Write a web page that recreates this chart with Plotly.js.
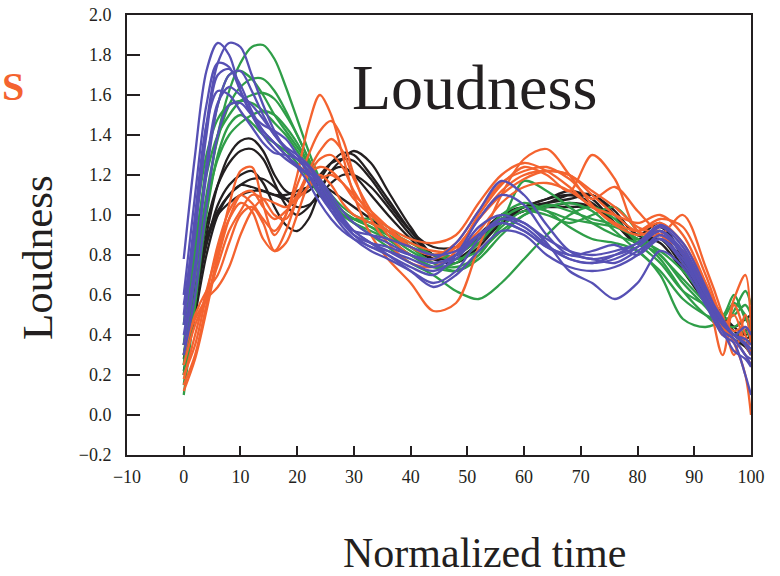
<!DOCTYPE html>
<html>
<head>
<meta charset="utf-8">
<script src="https://cdn.plot.ly/plotly-3.0.1.min.js"></script>
<style>html,body{margin:0;padding:0;background:#fff;}#chart{width:780px;height:576px;}</style>
</head>
<body>
<div id="chart"></div>
<script>
// Normalized time grid (shared by every curve)
const time = [0,2,4,6,8,10,12,14,16,18,20,22,24,26,28,30,33,36,40,44,48,52,56,60,64,68,72,76,80,84,88,92,95,97,99,100];

// Blue group
const blueCurves = [
  [0.78,1.30,1.72,1.86,1.80,1.62,1.50,1.42,1.36,1.30,1.24,1.16,1.06,0.98,0.92,0.88,0.84,0.80,0.74,0.70,0.80,0.98,1.10,1.05,0.90,0.80,0.82,0.85,0.80,0.88,0.78,0.58,0.45,0.40,0.35,0.30],
  [0.55,0.95,1.45,1.76,1.86,1.84,1.70,1.55,1.42,1.33,1.28,1.22,1.14,1.04,0.96,0.90,0.86,0.84,0.80,0.78,0.86,1.02,1.17,1.10,0.95,0.82,0.78,0.80,0.84,0.92,0.80,0.60,0.42,0.38,0.30,0.25],
  [0.60,1.10,1.55,1.76,1.74,1.62,1.50,1.40,1.33,1.28,1.24,1.20,1.12,1.02,0.94,0.88,0.82,0.78,0.72,0.66,0.72,0.88,0.98,0.96,0.86,0.72,0.66,0.58,0.66,0.82,0.74,0.55,0.40,0.36,0.20,0.10],
  [0.45,0.90,1.40,1.70,1.73,1.65,1.52,1.42,1.36,1.30,1.25,1.20,1.12,1.05,0.98,0.92,0.86,0.82,0.76,0.72,0.78,0.90,0.96,0.92,0.84,0.78,0.76,0.78,0.84,0.94,0.84,0.62,0.48,0.40,0.38,0.35],
  [0.40,0.75,1.20,1.55,1.70,1.72,1.62,1.50,1.40,1.33,1.28,1.22,1.16,1.08,0.99,0.92,0.86,0.80,0.72,0.64,0.70,0.82,0.92,0.90,0.80,0.74,0.72,0.74,0.80,0.90,0.80,0.56,0.42,0.32,0.28,0.24],
  [0.35,0.70,1.25,1.56,1.64,1.60,1.55,1.48,1.40,1.34,1.30,1.25,1.18,1.10,1.02,0.96,0.90,0.86,0.80,0.76,0.80,0.90,0.98,0.94,0.85,0.78,0.76,0.80,0.86,0.92,0.82,0.60,0.46,0.40,0.44,0.40],
  [0.50,1.00,1.45,1.62,1.60,1.52,1.44,1.36,1.31,1.30,1.28,1.24,1.16,1.06,0.97,0.90,0.84,0.82,0.78,0.74,0.80,0.94,1.00,0.96,0.88,0.82,0.80,0.82,0.86,0.95,0.86,0.64,0.46,0.40,0.36,0.33],
  [0.30,0.60,1.05,1.40,1.55,1.56,1.50,1.45,1.42,1.38,1.30,1.20,1.10,1.02,0.96,0.92,0.90,0.88,0.84,0.80,0.82,0.90,0.96,0.92,0.84,0.80,0.78,0.76,0.82,0.88,0.76,0.58,0.42,0.38,0.30,0.28]
];

// Green group
const greenCurves = [
  [0.15,0.60,1.05,1.40,1.62,1.76,1.84,1.85,1.78,1.64,1.48,1.32,1.18,1.08,1.00,0.96,0.92,0.88,0.80,0.74,0.72,0.80,0.94,1.02,1.00,0.96,1.00,1.04,0.92,0.80,0.68,0.56,0.46,0.44,0.48,0.40],
  [0.25,0.80,1.25,1.55,1.70,1.72,1.68,1.60,1.50,1.42,1.34,1.26,1.18,1.10,1.04,1.00,0.96,0.90,0.82,0.76,0.72,0.78,0.90,1.00,1.05,1.02,0.98,0.95,0.88,0.82,0.72,0.58,0.48,0.50,0.55,0.50],
  [0.20,0.70,1.10,1.38,1.55,1.64,1.68,1.68,1.62,1.52,1.40,1.28,1.16,1.06,1.00,0.96,0.90,0.84,0.76,0.70,0.62,0.58,0.66,0.78,0.90,1.00,1.04,0.98,0.86,0.76,0.62,0.55,0.50,0.60,0.48,0.45],
  [0.35,0.85,1.20,1.40,1.50,1.57,1.60,1.61,1.58,1.50,1.40,1.28,1.16,1.06,1.00,0.98,0.98,0.94,0.84,0.76,0.74,0.80,0.96,1.17,1.12,1.04,0.96,0.90,0.86,0.80,0.66,0.54,0.44,0.40,0.42,0.38],
  [0.45,0.95,1.30,1.48,1.55,1.57,1.56,1.52,1.46,1.40,1.32,1.24,1.16,1.08,1.02,0.98,0.94,0.90,0.84,0.80,0.80,0.88,1.00,1.06,1.02,0.94,0.88,0.86,0.82,0.70,0.48,0.44,0.48,0.56,0.50,0.45],
  [0.30,0.70,1.05,1.28,1.40,1.46,1.50,1.52,1.50,1.44,1.36,1.26,1.16,1.08,1.02,0.98,0.94,0.88,0.80,0.74,0.76,0.86,0.98,1.04,1.02,0.98,0.96,0.94,0.88,0.78,0.62,0.50,0.44,0.52,0.62,0.55],
  [0.10,0.55,1.00,1.30,1.45,1.50,1.46,1.40,1.36,1.32,1.26,1.18,1.10,1.04,1.00,0.98,0.96,0.92,0.86,0.80,0.78,0.82,0.92,1.00,1.04,1.06,1.02,0.92,0.82,0.72,0.58,0.50,0.46,0.40,0.36,0.32]
];

// Black group
const blackCurves = [
  [0.20,0.55,0.90,1.15,1.30,1.37,1.38,1.32,1.20,1.12,1.10,1.12,1.18,1.26,1.31,1.30,1.20,1.08,0.92,0.80,0.80,0.90,1.00,1.04,1.06,1.08,1.10,1.02,0.90,0.96,0.78,0.60,0.46,0.40,0.42,0.45],
  [0.30,0.62,0.95,1.15,1.26,1.32,1.33,1.28,1.16,1.05,1.00,1.04,1.12,1.22,1.28,1.32,1.26,1.12,0.94,0.80,0.78,0.86,0.96,1.04,1.08,1.12,1.08,0.96,0.86,0.94,0.80,0.62,0.48,0.42,0.38,0.40],
  [0.25,0.55,0.85,1.05,1.15,1.20,1.22,1.16,1.04,0.95,0.92,0.98,1.12,1.22,1.24,1.20,1.10,1.00,0.88,0.78,0.76,0.84,0.96,1.02,1.04,1.06,1.04,0.96,0.86,0.90,0.76,0.58,0.44,0.38,0.34,0.30],
  [0.35,0.62,0.88,1.02,1.10,1.15,1.18,1.18,1.14,1.08,1.04,1.05,1.10,1.16,1.20,1.20,1.14,1.04,0.90,0.80,0.80,0.88,0.98,1.04,1.08,1.10,1.06,0.96,0.88,0.92,0.80,0.62,0.50,0.44,0.48,0.50],
  [0.22,0.50,0.80,1.00,1.10,1.15,1.14,1.12,1.10,1.10,1.12,1.14,1.15,1.12,1.08,1.04,0.98,0.92,0.84,0.78,0.80,0.90,1.00,1.04,1.04,1.04,1.04,1.00,0.90,0.86,0.72,0.56,0.44,0.40,0.36,0.38],
  [0.28,0.58,0.86,1.00,1.06,1.10,1.12,1.12,1.10,1.08,1.10,1.14,1.20,1.26,1.28,1.27,1.18,1.06,0.92,0.84,0.84,0.90,0.98,1.02,1.06,1.10,1.10,1.00,0.86,0.88,0.74,0.60,0.50,0.44,0.40,0.42]
];

// Orange group
const orangeCurves = [
  [0.15,0.30,0.55,0.80,1.05,1.22,1.24,1.05,0.90,1.00,1.20,1.45,1.60,1.50,1.30,1.10,0.90,0.78,0.66,0.52,0.56,0.84,1.10,1.28,1.33,1.20,1.05,0.95,0.90,0.92,0.80,0.62,0.30,0.55,0.40,0.30],
  [0.20,0.35,0.60,0.85,1.02,1.10,1.06,0.98,0.92,1.00,1.15,1.30,1.42,1.47,1.38,1.20,0.98,0.86,0.76,0.74,0.82,1.00,1.15,1.24,1.20,1.12,1.30,1.18,0.92,0.90,1.00,0.74,0.50,0.30,0.50,0.35],
  [0.12,0.28,0.52,0.78,0.98,1.10,1.12,1.04,0.98,1.02,1.10,1.22,1.32,1.38,1.32,1.18,1.02,0.90,0.80,0.78,0.84,0.98,1.12,1.20,1.22,1.20,1.10,1.00,0.92,0.96,0.86,0.66,0.46,0.36,0.20,0.00],
  [0.25,0.45,0.58,0.75,0.92,1.02,1.10,1.08,1.00,0.98,1.08,1.20,1.28,1.30,1.24,1.12,1.00,0.92,0.84,0.80,0.86,1.02,1.16,1.22,1.24,1.18,1.08,1.14,1.02,0.90,0.82,0.64,0.40,0.58,0.70,0.42],
  [0.30,0.50,0.62,0.70,0.86,1.00,1.04,0.96,0.82,0.86,1.00,1.15,1.20,1.15,1.06,1.00,0.96,0.92,0.86,0.82,0.82,0.92,1.06,1.14,1.16,1.12,1.04,0.96,0.92,0.98,0.94,0.70,0.48,0.42,0.44,0.38],
  [0.18,0.40,0.62,0.82,0.98,1.06,1.02,0.88,0.82,0.92,1.08,1.20,1.24,1.22,1.16,1.08,1.00,0.94,0.88,0.86,0.90,1.06,1.20,1.26,1.22,1.14,1.04,1.00,0.96,1.00,0.90,0.66,0.44,0.38,0.30,0.25],
  [0.35,0.48,0.58,0.64,0.74,0.90,1.02,1.08,1.06,1.04,1.08,1.14,1.18,1.20,1.16,1.10,1.02,0.94,0.84,0.80,0.84,0.98,1.10,1.18,1.22,1.20,1.12,1.04,0.94,0.90,0.82,0.62,0.45,0.50,0.35,0.30]
];

const xTicks = [-10,0,10,20,30,40,50,60,70,80,90,100];
const yTicks = [-0.2,0.0,0.2,0.4,0.6,0.8,1.0,1.2,1.4,1.6,1.8,2.0];

const groups = [
  {curves: blackCurves, color: '#231f20'},
  {curves: greenCurves, color: '#2f9e48'},
  {curves: orangeCurves, color: '#f4632f'},
  {curves: blueCurves, color: '#5650b4'}
];

const traces = [];
groups.forEach(g => {
  g.curves.forEach(vals => {
    traces.push({
      x: time, y: vals, type: 'scatter', mode: 'lines',
      line: {color: g.color, width: 2.3, shape: 'spline', smoothing: 0.9},
      hoverinfo: 'skip', showlegend: false
    });
  });
});

const ink = '#231f20';
const serif = '"Liberation Serif", "Times New Roman", Times, serif';

const layout = {
  width: 780, height: 576,
  margin: {l: 127, r: 29, t: 15, b: 121, pad: 0},
  paper_bgcolor: '#ffffff', plot_bgcolor: '#ffffff',
  showlegend: false,
  font: {family: serif, color: ink, size: 18},
  xaxis: {
    range: [-10, 100], tickvals: xTicks, ticks: 'inside', ticklen: 9, tickwidth: 2, tickcolor: ink,
    showline: true, linecolor: ink, linewidth: 2, mirror: true,
    showgrid: false, zeroline: false, ticklabelstandoff: 4,
    tickfont: {family: serif, size: 18, color: ink}
  },
  yaxis: {
    range: [-0.2, 2.0], tickvals: yTicks, tickformat: '.1f', ticks: 'inside', ticklen: 13, tickwidth: 2, tickcolor: ink,
    showline: true, linecolor: ink, linewidth: 2, mirror: true,
    showgrid: false, zeroline: false, ticklabelstandoff: 10,
    tickfont: {family: serif, size: 18, color: ink}
  },
  annotations: [
    {text: 'Loudness', xref: 'paper', yref: 'paper', x: (474-127)/624, y: (455-87)/440,
     xanchor: 'center', yanchor: 'middle', showarrow: false,
     font: {family: serif, size: 64, color: ink}},
    {text: 'Loudness', xref: 'paper', yref: 'paper', x: (37-127)/624, y: (455-258)/440,
     xanchor: 'center', yanchor: 'middle', showarrow: false, textangle: -90,
     font: {family: serif, size: 43, color: ink}},
    {text: 'Normalized time', xref: 'paper', yref: 'paper', x: (484-127)/624, y: (455-553)/440,
     xanchor: 'center', yanchor: 'middle', showarrow: false,
     font: {family: serif, size: 42, color: ink}},
    {text: '<b>S</b>', xref: 'paper', yref: 'paper', x: (13-127)/624, y: (455-86)/440,
     xanchor: 'center', yanchor: 'middle', showarrow: false,
     font: {family: serif, size: 40, color: '#f4632f'}}
  ]
};

Plotly.newPlot('chart', traces, layout, {staticPlot: true, displayModeBar: false});
</script>
</body>
</html>
